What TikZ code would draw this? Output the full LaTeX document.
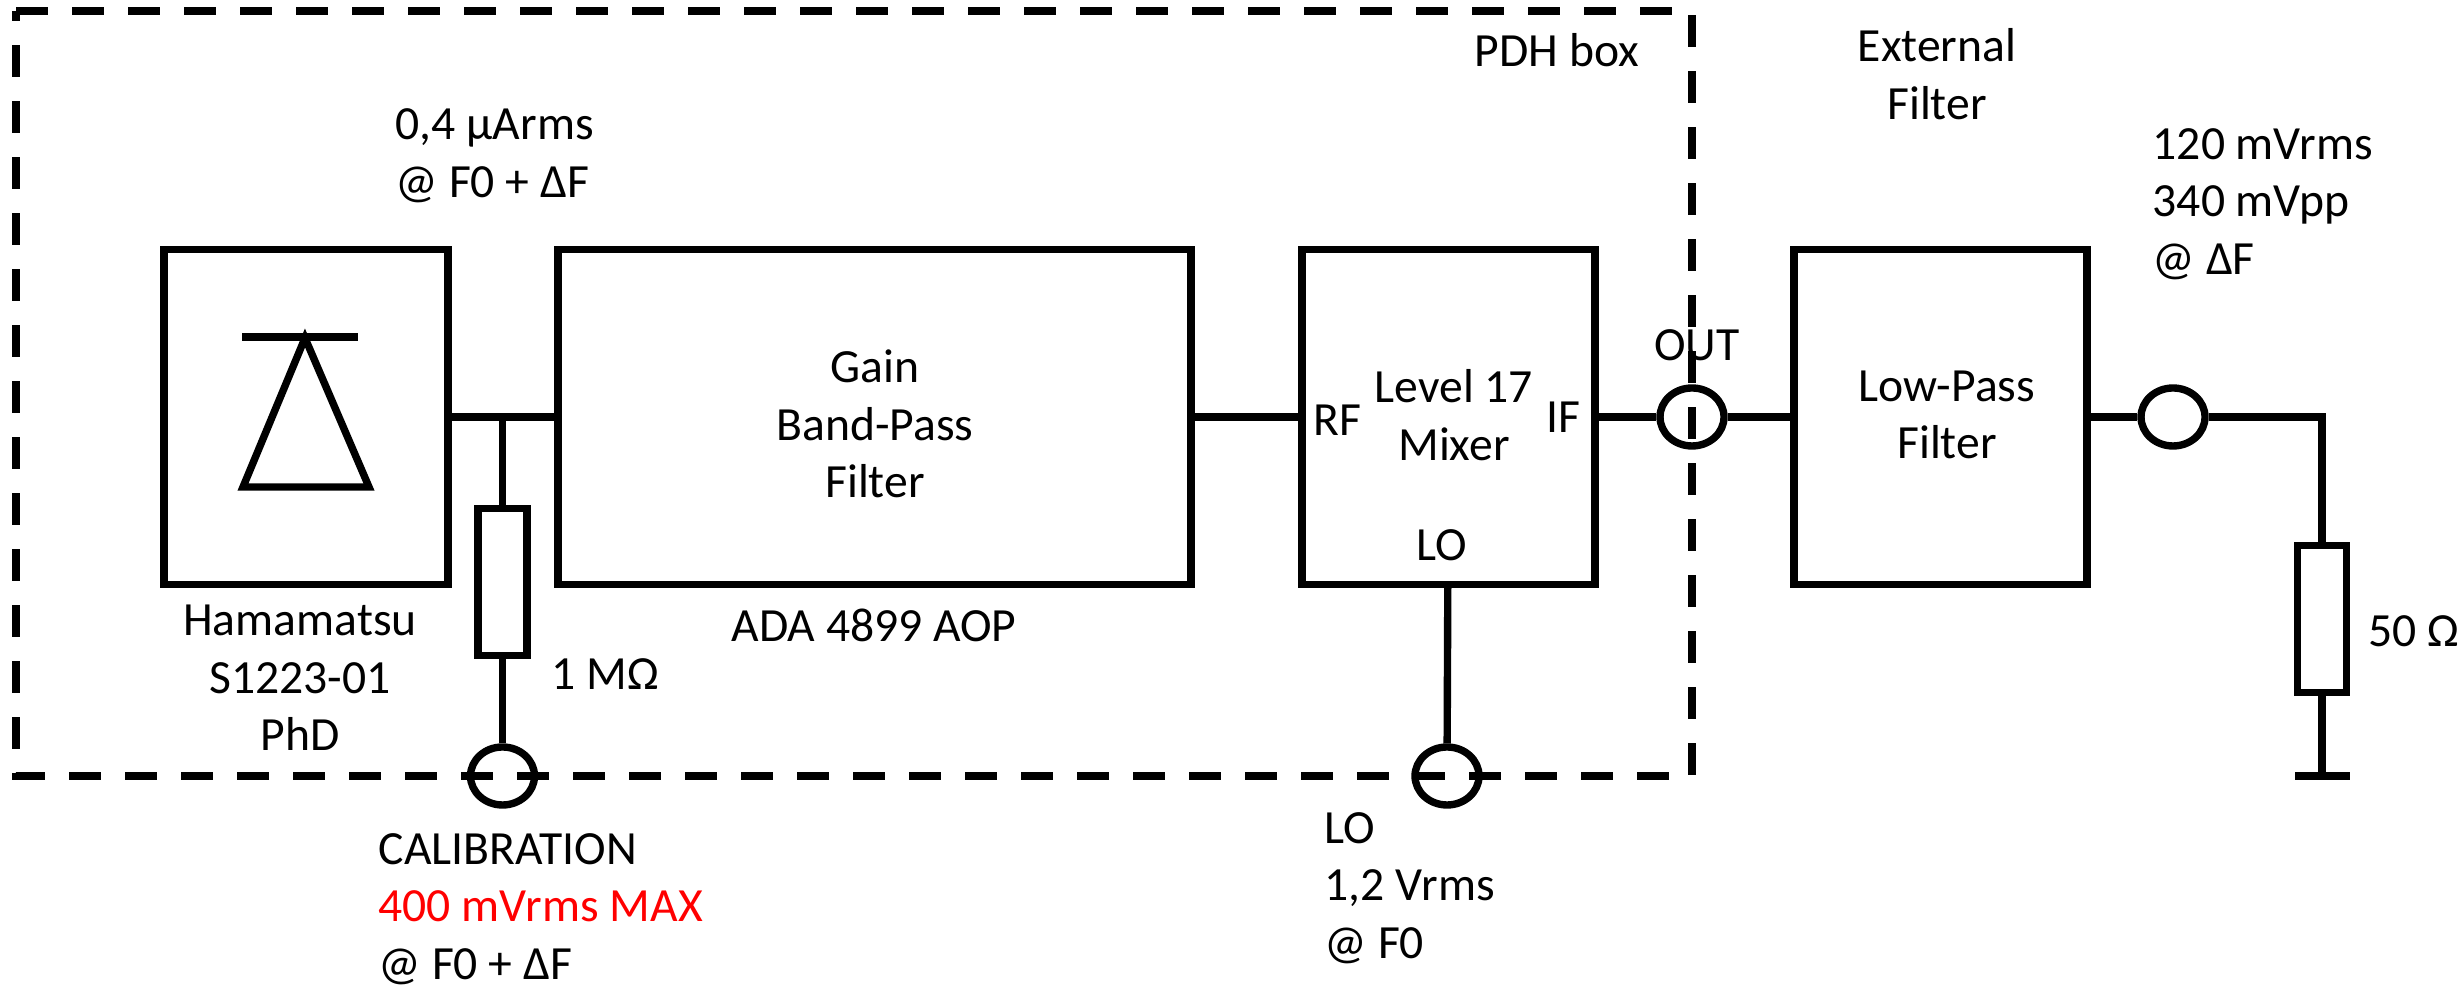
\documentclass[tikz,border=0pt]{standalone}
\usepackage{fontspec}
\setmainfont{Carlito}
\usetikzlibrary{positioning, shapes}

\begin{document}
\begin{tikzpicture}[auto, line width=2.1pt]
		\tikzstyle{block} = [draw=black, rectangle, minimum height=3.35cm, inner sep=0pt]
		\tikzstyle{res} = [draw=black, rectangle, minimum width=0.49cm, minimum height=1.47cm, inner sep=0pt]
		\tikzstyle{port} = [draw=black, ellipse, minimum width=0.64cm, minimum height=0.58cm, inner sep=0pt]
		\tikzstyle{invis} = [draw=none, inner sep=0pt, font=\fontsize{13.55}{16.4}\selectfont]
		\tikzstyle{left text} = [invis, anchor=west, align=left]
		\tikzstyle{mid text} = [invis, align=center]
		\tikzstyle{box edge} = [dash pattern=on 0.32cm off 0.24cm]
		
		\useasboundingbox (0, 0) rectangle (24.63, 9.91);
		
		\draw[box edge] (0.16, 9.80) -- (16.92, 9.80) -- (16.92, 2.15) -- (0.16, 2.15) -- cycle;
		
		\node[block, minimum width=2.84cm] 	at (3.06, 5.74) 	(pd) 	{};
		\node[block, minimum width=6.33cm] 	at (8.745, 5.74) 	(amp) 	{};
		\node[block, minimum width=2.93cm] 	at (14.485, 5.74) 	(mix) 	{};
		\node[block, minimum width=2.93cm] 	at (19.405, 5.74) 	(lpf) 	{};
		\node[res] 	at (5.025, 4.09) 	(r1) 	{};
		\node[res] 	at (23.22, 3.72) 	(r2) 	{};
		\node[port] 	at (5.025, 2.15) 	(cal) 	{};
		\node[port] 	at (14.47, 2.15) 	(lo) 	{};
		\node[port] 	at (16.92, 5.74) 	(out) 	{};
		\node[port] 	at (21.73, 5.74) 	(load) 	{};
		
		\coordinate (tee) at (5.025, 5.74);
		\coordinate (gnd) at (23.22, 2.15);
		\coordinate (gndl) at (22.95, 2.15);
		\coordinate (gndr) at (23.50, 2.15);
		\coordinate (apex) at (3.05, 6.53);
		\coordinate (bl) at (2.43, 5.04);
		\coordinate (br) at (3.69, 5.04);
		\coordinate (barl) at (2.42, 6.54);
		\coordinate (barr) at (3.58, 6.54);
		
		\draw (barl) -- (barr);
		\draw (apex) -- (bl) -- (br) -- cycle;
		
		\path[-]
		(pd)	edge	(amp)
		(tee)	edge	(r1)
		(r1)	edge	(cal)
		(amp)	edge	(mix)
		(mix)	edge	(out)
		(mix)	edge	(lo)
		(out)	edge	(lpf)
		(lpf)	edge	(load)
		(r2)	edge	(gnd)
		(gndl)	edge	(gndr);
		\draw (load) -| (r2);
		
		\node[left text] 	at (3.92, 8.35) 	(ipd) 	{0,4 µArms\\@ F0 + ΔF};
		\node[mid text] 	at (3.00, 3.13) 	(pdname) 	{Hamamatsu\\S1223-01\\PhD};
		\node[left text] 	at (5.48, 3.17) 	(r1val) 	{1 MΩ};
		\node[mid text] 	at (8.75, 5.67) 	(gain) 	{Gain\\Band-Pass\\Filter};
		\node[mid text] 	at (8.74, 3.66) 	(aop) 	{ADA 4899 AOP};
		\node[left text] 	at (3.75, 0.82) 	(calval) 	{CALIBRATION\\\textcolor{red}{400 mVrms MAX}\\@ F0 + ΔF};
		\node[mid text] 	at (15.57, 9.41) 	(pdh) 	{PDH box};
		\node[mid text] 	at (19.37, 9.17) 	(ext) 	{External\\Filter};
		\node[left text] 	at (21.49, 7.87) 	(outval) 	{120 mVrms\\340 mVpp\\@ ΔF};
		\node[mid text] 	at (14.54, 5.76) 	(mixname) 	{Level 17\\Mixer};
		\node[mid text] 	at (13.37, 5.71) 	(rf) 	{RF};
		\node[mid text] 	at (15.63, 5.74) 	(if) 	{IF};
		\node[mid text] 	at (14.42, 4.46) 	(loin) 	{LO};
		\node[mid text] 	at (16.97, 6.46) 	(outlbl) 	{OUT};
		\node[mid text] 	at (19.47, 5.76) 	(lpfname) 	{Low-Pass\\Filter};
		\node[left text] 	at (23.65, 3.60) 	(r2val) 	{50 Ω};
		\node[left text] 	at (13.21, 1.03) 	(loval) 	{LO\\1,2 Vrms\\@ F0};
\end{tikzpicture}
\end{document}
